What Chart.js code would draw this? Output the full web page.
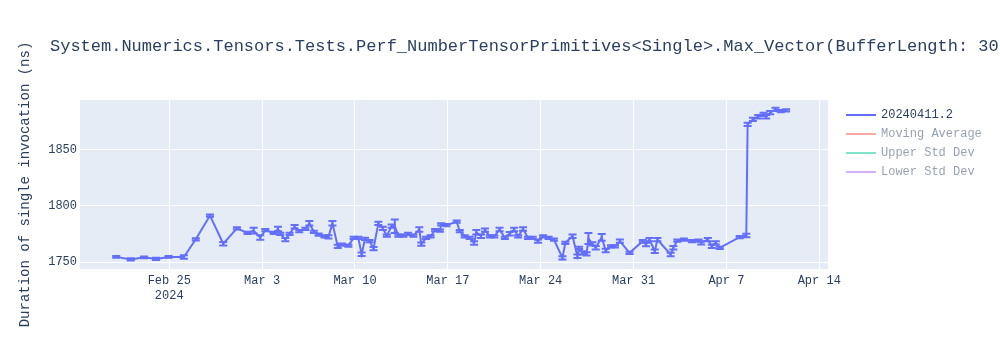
<!DOCTYPE html>
<html>
<head>
<meta charset="utf-8">
<script src="https://cdn.jsdelivr.net/npm/chart.js@4.4.1/dist/chart.umd.min.js"></script>
<style>
  html, body { margin: 0; padding: 0; background: #fff; }
  #wrap { width: 1000px; height: 350px; position: relative; }
</style>
</head>
<body>
<div id="wrap"><canvas id="perf-chart"></canvas></div>
<script>
// day offset: 1 = Feb 1 2024, 30 = Mar 1, 61 = Apr 1
const run_days = [
  21.0, 22.1, 23.1, 24.0, 24.95, 26.1, 27.0, 28.07, 29.07, 30.1,
  30.9, 31.36, 31.86, 32.24, 32.87, 33.2, 33.37, 33.75, 34.07, 34.45,
  34.8, 35.26, 35.56, 35.9, 36.26, 36.7, 37.0, 37.3, 37.7, 38.0,
  38.5, 38.9, 39.25, 39.5, 39.76, 40.1, 40.4, 40.76, 41.1, 41.4,
  41.76, 42.0, 42.27, 42.65, 43.0, 43.4, 43.85, 44.0, 44.36, 44.7,
  45.04, 45.4, 45.5, 45.9, 46.67, 46.9, 47.27, 47.65, 47.98, 48.15,
  48.5, 48.8, 49.16, 49.5, 49.9, 50.3, 50.66, 51.0, 51.3, 51.67,
  52.04, 52.4, 52.8, 53.18, 53.6, 54.0, 54.64, 54.86, 55.4, 55.77,
  55.9, 56.15, 56.46, 56.6, 56.9, 57.15, 57.6, 57.9, 58.3, 58.6,
  58.97, 59.7, 60.7, 60.94, 61.2, 61.6, 61.8, 62.8, 63.0, 63.3,
  63.8, 64.4, 64.9, 65.1, 65.6, 65.9, 66.2, 66.5, 68.0, 68.5,
  68.6, 69.0, 69.4, 69.8, 70.0, 70.3, 70.7, 71.1, 71.5
];
const run_values = [
  1754.6, 1752.3, 1754.2, 1752.8, 1754.6, 1754.5, 1770.3, 1791.5, 1766.3, 1780.0,
  1776.0, 1778.0, 1771.8, 1778.4, 1776.0, 1779.5, 1775.2, 1770.0, 1775.2, 1781.5,
  1777.5, 1779.5, 1784.5, 1777.0, 1774.5, 1773.0, 1772.5, 1784.5, 1764.0, 1765.6,
  1764.7, 1771.6, 1771.6, 1757.0, 1770.7, 1768.6, 1762.0, 1784.5, 1780.0, 1773.5,
  1782.0, 1782.0, 1773.5, 1773.5, 1775.2, 1773.5, 1779.0, 1766.0, 1771.6, 1773.0,
  1778.5, 1778.0, 1783.5, 1782.9, 1786.0, 1777.5, 1773.0, 1771.6, 1767.0, 1776.5,
  1773.0, 1778.5, 1773.0, 1773.0, 1779.0, 1771.6, 1775.2, 1779.0, 1773.0, 1779.5,
  1771.6, 1771.6, 1768.6, 1773.0, 1771.6, 1770.0, 1753.7, 1767.1, 1773.0, 1755.2,
  1762.7, 1758.2, 1757.3, 1771.0, 1766.2, 1762.7, 1772.0, 1760.3, 1764.0, 1764.0,
  1768.6, 1758.2, 1768.6, 1765.6, 1770.0, 1759.6, 1770.0, 1756.7, 1762.7, 1769.2,
  1770.0, 1768.6, 1769.2, 1767.1, 1770.0, 1764.0, 1767.1, 1762.7, 1772.2, 1773.7,
  1872.8, 1877.2, 1879.6, 1881.7, 1879.6, 1883.2, 1886.2, 1884.6, 1885.3
];
const run_errors = [
  0.8, 1.0, 0.8, 1.0, 0.8, 1.5, 1.0, 1.0, 1.5, 1.0,
  1.0, 2.5, 2.0, 1.0, 1.0, 2.0, 1.0, 1.5, 1.0, 1.5,
  1.0, 1.0, 2.0, 1.0, 1.0, 1.0, 1.5, 2.0, 1.5, 1.0,
  1.0, 1.0, 1.0, 1.5, 1.0, 1.0, 1.5, 1.5, 1.5, 1.0,
  1.5, 6.0, 1.0, 1.0, 1.0, 1.0, 2.0, 1.5, 1.0, 1.0,
  1.0, 1.0, 1.0, 1.0, 1.0, 1.0, 1.0, 1.0, 1.5, 2.0,
  1.5, 1.5, 1.0, 1.0, 1.5, 1.0, 1.5, 1.5, 1.0, 1.5,
  1.0, 1.0, 1.5, 1.0, 1.0, 1.0, 1.5, 1.0, 1.5, 1.5,
  1.0, 1.5, 1.5, 5.0, 1.5, 1.5, 3.0, 1.5, 1.0, 1.0,
  1.5, 1.0, 1.0, 1.5, 1.5, 1.5, 1.5, 1.5, 1.5, 1.0,
  1.0, 1.0, 1.0, 1.5, 1.5, 1.5, 1.5, 1.0, 1.0, 1.5,
  1.5, 1.5, 1.5, 1.5, 1.5, 1.5, 1.5, 1.0, 1.0
];

const x_tick_days   = [25, 32, 39, 46, 53, 60, 67, 74];
const x_tick_labels = [['Feb 25', '2024'], 'Mar 3', 'Mar 10', 'Mar 17', 'Mar 24', 'Mar 31', 'Apr 7', 'Apr 14'];
const y_tick_values = [1750, 1800, 1850];

const legend_names  = ['20240411.2', 'Moving Average', 'Upper Std Dev', 'Lower Std Dev'];
const legend_colors = ['#636efa', 'rgba(239,85,59,0.5)', 'rgba(0,204,150,0.5)', 'rgba(171,99,250,0.5)'];

const TITLE = 'System.Numerics.Tensors.Tests.Perf_NumberTensorPrimitives<Single>.Max_Vector(BufferLength: 3079)';
const FONT  = "'Liberation Mono', 'Courier New', monospace";
const TEXT_COLOR = '#2a3f5f';

var plotBg = {
    id: 'plotBg',
    beforeDraw: (chart) => {
        const a = chart.chartArea, ctx = chart.ctx;
        ctx.save();
        ctx.fillStyle = '#e5ecf6';
        ctx.fillRect(a.left, a.top, a.right - a.left, a.bottom - a.top);
        ctx.restore();
    }
};

var errorBars = {
    id: 'errorBars',
    afterDatasetsDraw: (chart) => {
        const meta = chart.getDatasetMeta(0), ys = chart.scales.y, ctx = chart.ctx;
        ctx.save();
        ctx.strokeStyle = '#636efa';
        ctx.lineWidth = 2;
        meta.data.forEach((pt, i) => {
            const hi = ys.getPixelForValue(run_values[i] + run_errors[i]),
                  lo = ys.getPixelForValue(run_values[i] - run_errors[i]);
            ctx.beginPath();
            ctx.moveTo(pt.x, hi); ctx.lineTo(pt.x, lo);
            ctx.moveTo(pt.x - 4, hi); ctx.lineTo(pt.x + 4, hi);
            ctx.moveTo(pt.x - 4, lo); ctx.lineTo(pt.x + 4, lo);
            ctx.stroke();
        });
        ctx.restore();
    }
};

var titleAndLegend = {
    id: 'titleAndLegend',
    afterDraw: (chart) => {
        const ctx = chart.ctx;
        ctx.save();
        ctx.font = '17px ' + FONT;
        ctx.fillStyle = TEXT_COLOR;
        ctx.textBaseline = 'middle';
        ctx.textAlign = 'left';
        ctx.fillText(TITLE, 50, 46);

        ctx.font = '12px ' + FONT;
        const rowY = [115, 134, 153, 172];
        legend_names.forEach((name, i) => {
            ctx.strokeStyle = legend_colors[i];
            ctx.lineWidth = 2;
            ctx.beginPath();
            ctx.moveTo(846, rowY[i]); ctx.lineTo(876, rowY[i]);
            ctx.stroke();
            ctx.fillStyle = i == 0 ? TEXT_COLOR : 'rgba(42,63,95,0.5)';
            ctx.fillText(name, 881, rowY[i]);
        });
        ctx.restore();
    }
};

drawPerfChart = () => {
    const points = run_days.map((d, i) => ({ x: d, y: run_values[i] }));

    new Chart(document.getElementById('perf-chart'), {
        type: 'line',
        data: {
            datasets: [{
                label: legend_names[0],
                data: points,
                borderColor: '#636efa',
                borderWidth: 2,
                pointRadius: 0,
                tension: 0,
                fill: false
            }]
        },
        plugins: [plotBg, errorBars, titleAndLegend],
        options: {
            responsive: true,
            maintainAspectRatio: false,
            animation: false,
            layout: { padding: { top: 100, right: 172, bottom: 0, left: 0 } },
            plugins: {
                legend: { display: false },
                title: { display: false },
                tooltip: { enabled: false }
            },
            scales: {
                x: {
                    type: 'linear',
                    min: 18.27,
                    max: 74.66,
                    afterBuildTicks: (s) => { s.ticks = x_tick_days.map(v => ({ value: v })); },
                    afterFit: (s) => { s.height = 81; },
                    ticks: {
                        autoSkip: false,
                        maxRotation: 0,
                        padding: 5,
                        color: TEXT_COLOR,
                        font: { family: FONT, size: 12 },
                        callback: (v) => x_tick_labels[x_tick_days.indexOf(v)]
                    },
                    grid: { color: '#ffffff', lineWidth: 1, drawTicks: false },
                    border: { display: false }
                },
                y: {
                    min: 1743.8,
                    max: 1894.5,
                    afterBuildTicks: (s) => { s.ticks = y_tick_values.map(v => ({ value: v })); },
                    afterFit: (s) => { s.width = 80; },
                    ticks: {
                        padding: 3,
                        color: TEXT_COLOR,
                        font: { family: FONT, size: 12 },
                        callback: (v) => String(v)
                    },
                    grid: { color: '#ffffff', lineWidth: 1, drawTicks: false },
                    border: { display: false },
                    title: {
                        display: true,
                        text: 'Duration of single invocation (ns)',
                        color: TEXT_COLOR,
                        font: { family: FONT, size: 14 },
                        padding: { top: 17, bottom: 0 }
                    }
                }
            }
        }
    });
}

drawPerfChart();
</script>
</body>
</html>
